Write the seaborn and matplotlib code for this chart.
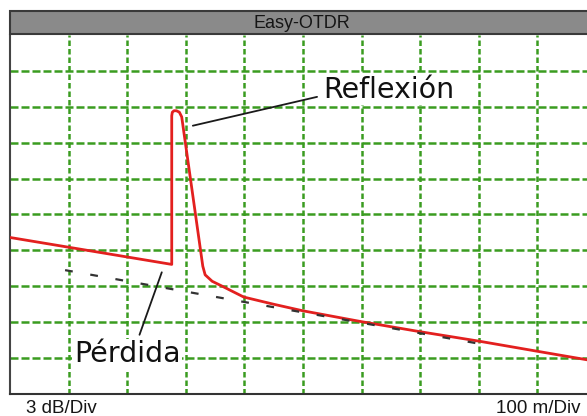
import matplotlib
matplotlib.use("Agg")
import matplotlib.pyplot as plt
from matplotlib.patches import Rectangle
import seaborn as sns

# ---- data (distance in m, level in dB; 100 m/div, 3 dB/div) ----
trace_m = [0, 276, 276, 277, 280, 284, 289, 293, 329, 333, 345, 360, 377,
           399, 450, 499, 598, 698, 801, 900, 1000]
trace_db = [13.08, 10.83, 23.25, 23.55, 23.67, 23.67, 23.55, 23.16, 10.68,
            9.96, 9.42, 9.06, 8.64, 8.10, 7.50, 6.96, 6.06, 5.22, 4.41,
            3.57, 2.73]
ref_m = [94, 801]
ref_db = [10.35, 4.20]
refl_lead_m = [312, 524]
refl_lead_db = [22.42, 24.83]
loss_lead_m = [259, 221]
loss_lead_db = [10.17, 4.95]
title_text = "Easy-OTDR"
label_reflexion = "Reflexión"
label_perdida = "Pérdida"
y_scale_label = "3 dB/Div"
x_scale_label = "100 m/Div"
x_grid = list(range(100, 1000, 100))
y_grid = list(range(3, 30, 3))

sns.set_style("white")
plt.rcParams['font.family'] = ['DejaVu Sans']
narrow = ['Liberation Sans', 'DejaVu Sans']

W, H = 587, 416
fig = plt.figure(figsize=(W / 100, H / 100), dpi=100)
fig.patch.set_facecolor("white")
ax = fig.add_axes([10 / W, 22 / H, 586 / W, 359 / H])
ax.set_xlim(0, 1000)
ax.set_ylim(0, 30)

green = "#3a9c20"
for xv in x_grid:
    ax.axvline(xv, color=green, lw=1.8, linestyle=(0, (2.2, 1.2)), zorder=1)
for yv in y_grid:
    ax.axhline(yv, color=green, lw=1.8, linestyle=(0, (3.2, 1.2)), zorder=1)

sns.lineplot(x=trace_m, y=trace_db, sort=False, estimator=None, ax=ax,
             color="#e3201f", lw=2.0, zorder=3)
ax.plot(ref_m, ref_db, color="#333333", lw=1.6, linestyle=(0, (3.5, 8)),
        zorder=4)
ax.plot(refl_lead_m, refl_lead_db, color="#1a1a1a", lw=1.3, zorder=4)
ax.plot(loss_lead_m, loss_lead_db, color="#1a1a1a", lw=1.3, zorder=4)

ax.text(534, 24.75, label_reflexion, fontsize=20.5, color="#111111",
        ha="left", va="baseline", zorder=5,
        bbox=dict(facecolor="white", edgecolor="none", pad=1.0))
ax.text(109, 2.67, label_perdida, fontsize=20.5, color="#111111",
        ha="left", va="baseline", zorder=5,
        bbox=dict(facecolor="white", edgecolor="none", pad=1.0))

ax.set_xticks([])
ax.set_yticks([])
ax.set_xlabel("")
ax.set_ylabel("")
for s in ["top", "right"]:
    ax.spines[s].set_visible(False)
ax.spines["left"].set_color("#444444")
ax.spines["left"].set_linewidth(1.5)
ax.spines["bottom"].set_color("#333333")
ax.spines["bottom"].set_linewidth(1.5)

# title bar
bar = Rectangle((10 / W, (H - 34) / H), 600 / W, 23 / H,
                transform=fig.transFigure, facecolor="#8a8a8a",
                edgecolor="#3a3a3a", lw=1.5, zorder=10)
fig.patches.append(bar)
fig.text(302 / W, (H - 23) / H, title_text, ha="center", va="center",
         fontsize=13, color="#151515", family=narrow, zorder=11)

fig.text(26 / W, (H - 413) / H, y_scale_label, ha="left", va="baseline",
         fontsize=13.5, color="#151515", family=narrow)
fig.text(580 / W, (H - 413) / H, x_scale_label, ha="right", va="baseline",
         fontsize=13.5, color="#151515", family=narrow)

fig.savefig("out.png", dpi=100, facecolor="white")
